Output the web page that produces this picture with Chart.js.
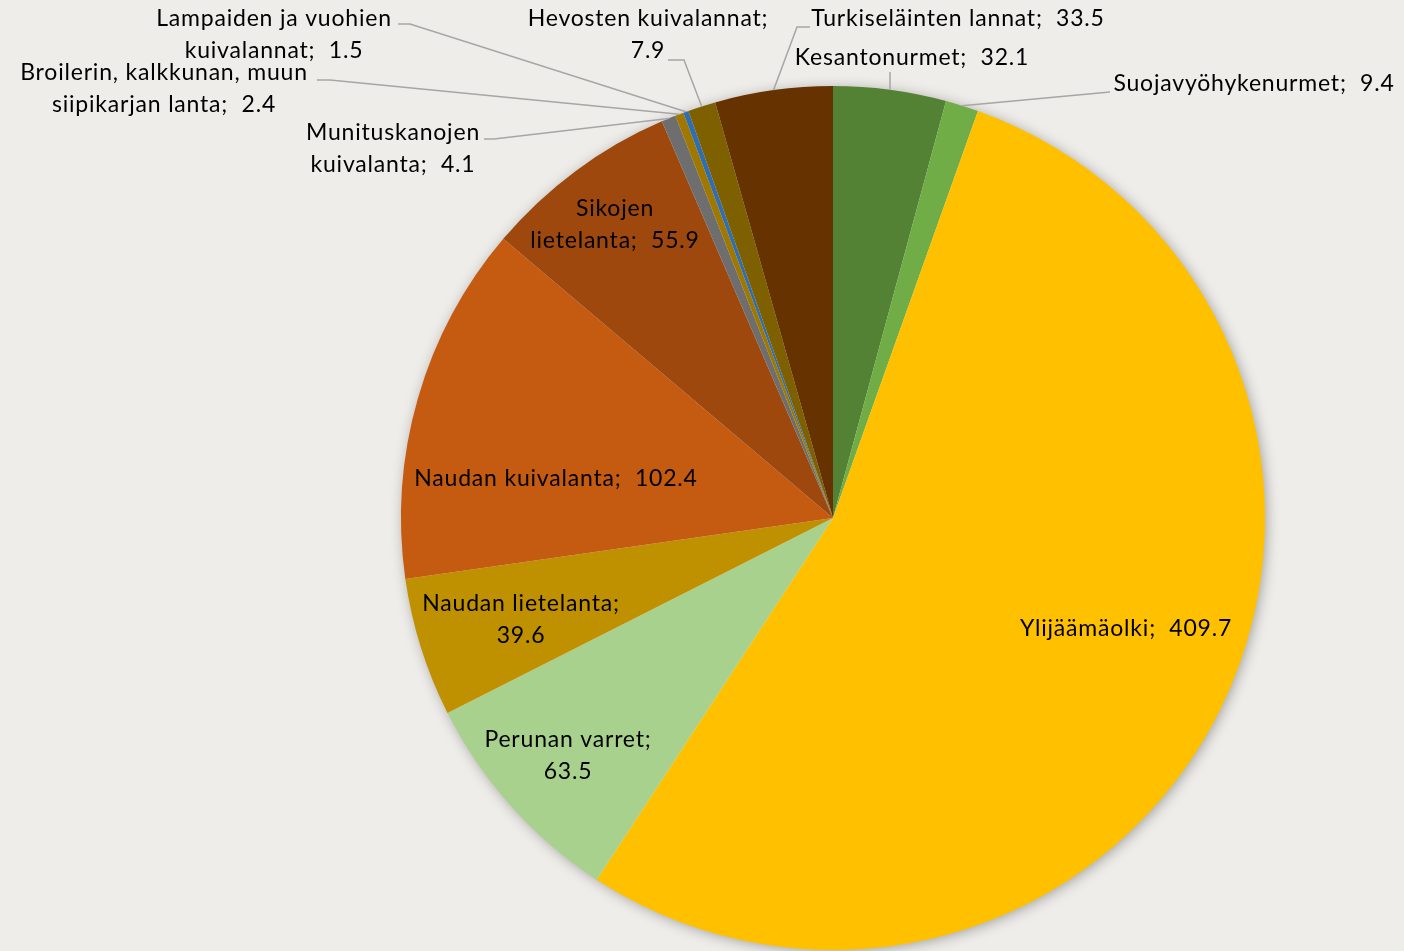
<!DOCTYPE html>
<html>
<head>
<meta charset="utf-8">
<script src="https://cdn.jsdelivr.net/npm/chart.js@4.4.0/dist/chart.umd.min.js"></script>
<style>
  html, body { margin: 0; padding: 0; background: #EEEDE9; }
  #wrap { width: 1404px; height: 951px; position: relative; }
</style>
</head>
<body>
<div id="wrap"><canvas id="pie"></canvas></div>
<script>
var categories = ['Kesantonurmet', 'Suojavyöhykenurmet', 'Ylijäämäolki', 'Perunan varret',
  'Naudan lietelanta', 'Naudan kuivalanta', 'Sikojen lietelanta', 'Munituskanojen kuivalanta',
  'Broilerin, kalkkunan, muun siipikarjan lanta', 'Lampaiden ja vuohien kuivalannat',
  'Hevosten kuivalannat', 'Turkiseläinten lannat'];
var values = [32.1, 9.4, 409.7, 63.5, 39.6, 102.4, 55.9, 4.1, 2.4, 1.5, 7.9, 33.5];
var colors = ['#548235', '#70AD47', '#FFC000', '#A9D18E', '#BF9000', '#C55A11',
  '#9E480E', '#6E6E6E', '#A07800', '#2F6EB0', '#7F6000', '#663300'];

// label placement: split = how many words on the first line (0 = one line, -1 = value on its own line)
var labelLayout = [
  { split: 0, x: 912, y: 58, path: [[890, 72]] },
  { split: 0, x: 1254, y: 84, path: [[1110, 92]] },
  { split: 0, x: 1126, y: 629 },
  { split: -1, x: 568, y: 756 },
  { split: -1, x: 521, y: 620 },
  { split: 0, x: 556, y: 479 },
  { split: 1, x: 615, y: 225 },
  { split: 1, x: 393, y: 149, path: [[484, 139], [494, 139]] },
  { split: 3, x: 164, y: 89, path: [[317, 80], [330, 80]] },
  { split: 3, x: 274, y: 35, path: [[398, 24], [410, 24]] },
  { split: -1, x: 648, y: 35, path: [[668, 60], [684, 60]] },
  { split: 0, x: 958, y: 19, path: [[810, 27], [797, 27]] }
];

function labelLines(i) {
  var name = categories[i], v = values[i].toFixed(1), s = labelLayout[i].split;
  if (s === 0) return [name + ';  ' + v];
  if (s === -1) return [name + ';', v];
  var words = name.split(' ');
  return [words.slice(0, s).join(' '), words.slice(s).join(' ') + ';  ' + v];
}

var shadowPlugin = {
  id: 'pieShadow',
  beforeDatasetsDraw: function (chart) {
    var arc = chart.getDatasetMeta(0).data[0];
    if (!arc) return;
    var ctx = chart.ctx;
    ctx.save();
    ctx.shadowColor = 'rgba(0,0,0,0.35)';
    ctx.shadowBlur = 14;
    ctx.shadowOffsetX = 2;
    ctx.shadowOffsetY = 2;
    ctx.fillStyle = '#EEEDE9';
    ctx.beginPath();
    ctx.arc(arc.x, arc.y, arc.outerRadius - 1, 0, Math.PI * 2);
    ctx.fill();
    ctx.restore();
  }
};

var labelPlugin = {
  id: 'pieLabels',
  afterDatasetsDraw: function (chart) {
    var ctx = chart.ctx;
    var arcs = chart.getDatasetMeta(0).data;
    ctx.save();
    arcs.forEach(function (arc, i) {
      var lay = labelLayout[i];
      if (lay.path) {
        var mid = (arc.startAngle + arc.endAngle) / 2;
        var ex = arc.x + Math.cos(mid) * arc.outerRadius;
        var ey = arc.y + Math.sin(mid) * arc.outerRadius;
        ctx.strokeStyle = '#A6A6A6';
        ctx.lineWidth = 1.5;
        ctx.beginPath();
        ctx.moveTo(lay.path[0][0], lay.path[0][1]);
        for (var p = 1; p < lay.path.length; p++) ctx.lineTo(lay.path[p][0], lay.path[p][1]);
        ctx.lineTo(ex, ey);
        ctx.stroke();
      }
      var lines = labelLines(i);
      ctx.fillStyle = '#000000';
      ctx.font = '23px Lato';
      ctx.letterSpacing = '0.8px';
      ctx.textAlign = 'center';
      ctx.textBaseline = 'middle';
      var lh = 32;
      var y0 = lay.y - (lines.length - 1) * lh / 2;
      lines.forEach(function (t, j) {
        ctx.fillText(t, lay.x, y0 + j * lh);
      });
    });
    ctx.restore();
  }
};

new Chart(document.getElementById('pie'), {
  type: 'pie',
  data: {
    labels: categories,
    datasets: [{
      data: values,
      backgroundColor: colors,
      borderWidth: 0
    }]
  },
  options: {
    responsive: true,
    maintainAspectRatio: false,
    animation: false,
    layout: { padding: { left: 401, right: 139, top: 86, bottom: 1 } },
    plugins: {
      legend: { display: false },
      tooltip: { enabled: false }
    }
  },
  plugins: [shadowPlugin, labelPlugin]
});
</script>
</body>
</html>
